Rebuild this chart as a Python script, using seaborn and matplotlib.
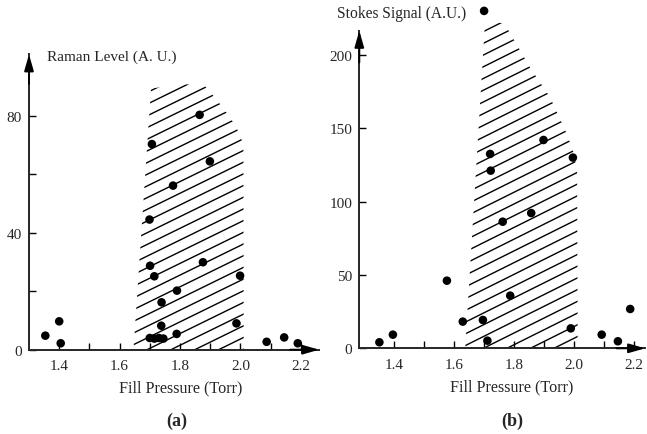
import numpy as np
import matplotlib
matplotlib.use("Agg")
import matplotlib.pyplot as plt
import seaborn as sns
from matplotlib.patches import Polygon

# --- data ---
raman_p = [1.354, 1.40, 1.405, 1.707, 1.865, 1.899, 1.777, 1.699, 1.701, 1.715, 1.876, 1.999,
           1.79, 1.739, 1.738, 1.789, 1.987, 1.70, 1.715, 1.73, 1.745, 2.087, 2.145, 2.19]
raman_v = [4.8, 9.7, 2.2, 70.3, 80.3, 64.4, 56.1, 44.5, 28.7, 25.1, 29.9, 25.3,
           20.2, 16.2, 8.2, 5.4, 9.0, 4.0, 3.8, 4.0, 3.8, 2.7, 4.2, 2.2]

stokes_p = [1.351, 1.396, 1.576, 1.629, 1.696, 1.711, 1.72, 1.722, 1.762, 1.857, 1.787,
            1.898, 1.996, 1.989, 2.092, 2.146, 2.187, 1.70]
stokes_v = [4.1, 9.3, 46.1, 18.2, 19.3, 5.2, 132.5, 121.1, 86.3, 92.2, 35.9,
            142, 130, 13.6, 9.3, 4.8, 26.8, 230]

# hatched (operating) regions, outline points
band_a_x = [1.646, 1.704, 1.813, 1.882, 1.919, 1.952, 1.985, 2.01, 2.011]
band_a_y = [0, 89.3, 90.8, 90.2, 85.8, 81.3, 76.5, 70.3, 0]
band_b_x = [1.637, 1.703, 1.767, 1.853, 1.92, 1.976, 2.0, 2.01, 2.012]
band_b_y = [0, 222.2, 221.7, 191.5, 171.1, 146.1, 132.5, 120.2, 0]

x_ticks = [1.4, 1.6, 1.8, 2.0, 2.2]
x_ticklabels = ["1.4", "1.6", "1.8", "2.0", "2.2"]
x_minor = [1.5, 1.7, 1.9, 2.1]
ya_ticks = [0, 40, 80]
ya_ticklabels = ["0", "40", "80"]
ya_minor = [20, 60]
yb_ticks = [0, 50, 100, 150, 200]
yb_ticklabels = ["0", "50", "100", "150", "200"]

sns.set_style("ticks")
plt.rcParams["font.family"] = ["Liberation Serif", "DejaVu Serif"]

W, H = 647, 435
fig = plt.figure(figsize=(W / 100, H / 100), dpi=100)


def px_axes(left, bottom, width, height):
    return fig.add_axes([left / W, (H - bottom) / H, width / W, height / H])


ax_a = px_axes(29, 350.7, 290.2, 295.4)
ax_b = px_axes(359.3, 349.3, 285.9, 346.2)


def hatch(ax, xs, ys, slope, step, x0, ymax):
    poly = Polygon(list(zip(xs, ys)), closed=True, fill=False, edgecolor="none")
    ax.add_patch(poly)
    for k in range(-45, 15):
        xa = x0 + k * step
        xb = xa + ymax / slope
        ln, = ax.plot([xa, xb], [0, ymax], color="black", lw=1.0, zorder=2)
        ln.set_clip_path(poly)


def style(ax, xlim, ylim, ytop):
    ax.set_xlim(*xlim)
    ax.set_ylim(*ylim)
    for s in ["top", "right"]:
        ax.spines[s].set_visible(False)
    ax.spines["left"].set_bounds(0, ytop)
    ax.spines["left"].set_linewidth(1.4)
    ax.spines["bottom"].set_linewidth(1.4)
    ax.set_xticks(x_ticks, x_ticklabels)
    ax.set_xticks(x_minor, minor=True)
    ax.tick_params(which="both", direction="in", length=5, width=1.0,
                   labelsize=11, color="black")
    ax.tick_params(axis="x", pad=7)
    ax.tick_params(axis="y", pad=5)
    ax.set_xlabel("")
    ax.set_ylabel("")
    arrow = dict(arrowstyle="-|>,head_length=0.7,head_width=0.2", color="black",
                 lw=1.4, shrinkA=0, shrinkB=0, mutation_scale=14)
    ax.annotate("", xy=(1, 0), xytext=(0.9, 0), xycoords="axes fraction",
                arrowprops=arrow, annotation_clip=False)
    ax.annotate("", xy=(0, ytop), xytext=(0, ytop * 0.9),
                xycoords=("axes fraction", "data"), arrowprops=arrow,
                annotation_clip=False)


# panel (a)
hatch(ax_a, band_a_x, band_a_y, 50.6, 0.079, 1.77, 100)
sns.scatterplot(x=raman_p, y=raman_v, ax=ax_a, color="black", s=38,
                edgecolor="none", zorder=3, clip_on=False)
style(ax_a, (1.3, 2.261), (0, 101), 101)
ax_a.set_yticks(ya_ticks, ya_ticklabels)
ax_a.set_yticks(ya_minor, minor=True)

# panel (b)
hatch(ax_b, band_b_x, band_b_y, 102, 0.0784, 1.776, 230)
sns.scatterplot(x=stokes_p, y=stokes_v, ax=ax_b, color="black", s=38,
                edgecolor="none", zorder=3, clip_on=False)
style(ax_b, (1.284, 2.237), (0, 236), 216.5)
ax_b.set_yticks(yb_ticks, yb_ticklabels)

# labels
fig.text(47 / W, 1 - 57 / H, "Raman Level (A. U.)", fontsize=11, ha="left", va="center")
fig.text(337 / W, 1 - 14 / H, "Stokes Signal (A.U.)", fontsize=11.2, ha="left", va="center")
fig.text(181 / W, 1 - 388 / H, "Fill Pressure (Torr)", fontsize=11.6, ha="center", va="center")
fig.text(512 / W, 1 - 387 / H, "Fill Pressure (Torr)", fontsize=11.6, ha="center", va="center")
fig.text(177 / W, 1 - 421 / H, "(a)", fontsize=13, fontweight="bold", ha="center", va="center")
fig.text(512 / W, 1 - 421 / H, "(b)", fontsize=13, fontweight="bold", ha="center", va="center")

fig.savefig("out.png", dpi=100)
